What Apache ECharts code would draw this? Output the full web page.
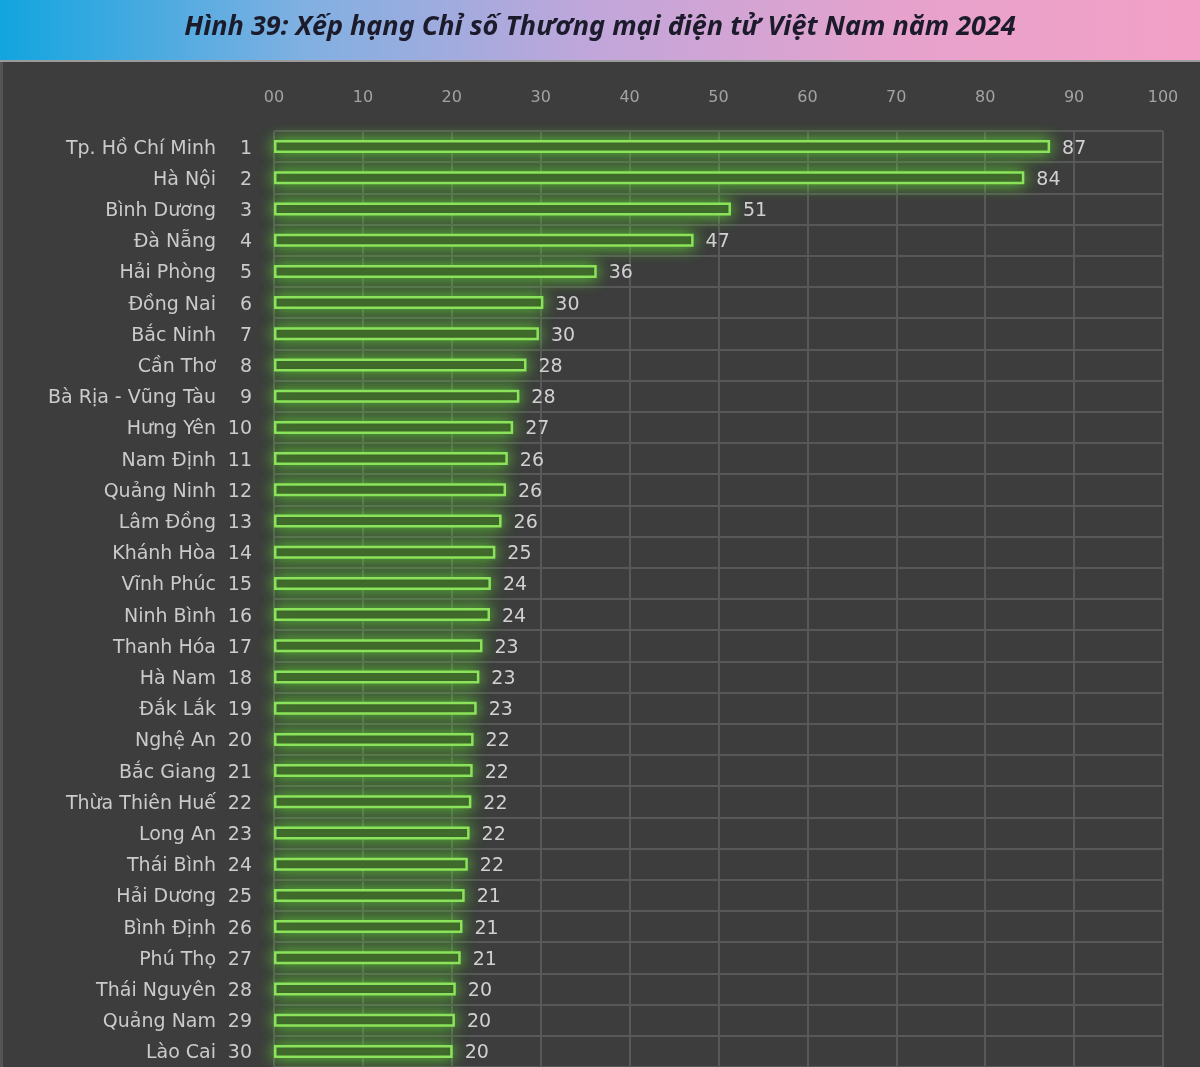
<!DOCTYPE html>
<html>
<head>
<meta charset="utf-8">
<script src="https://cdn.jsdelivr.net/npm/echarts@6/dist/echarts.min.js"></script>
<style>
html,body{margin:0;padding:0;background:#3d3d3d;}
#chart{width:1200px;height:1067px;}
</style>
</head>
<body>
<div id="chart"></div>
<script>
const titleText = 'Hình 39: Xếp hạng Chỉ số Thương mại điện tử Việt Nam năm 2024';
const provinces = ['Tp. Hồ Chí Minh','Hà Nội','Bình Dương','Đà Nẵng','Hải Phòng','Đồng Nai','Bắc Ninh','Cần Thơ','Bà Rịa - Vũng Tàu','Hưng Yên','Nam Định','Quảng Ninh','Lâm Đồng','Khánh Hòa','Vĩnh Phúc','Ninh Bình','Thanh Hóa','Hà Nam','Đắk Lắk','Nghệ An','Bắc Giang','Thừa Thiên Huế','Long An','Thái Bình','Hải Dương','Bình Định','Phú Thọ','Thái Nguyên','Quảng Nam','Lào Cai'];
const ranks = [1,2,3,4,5,6,7,8,9,10,11,12,13,14,15,16,17,18,19,20,21,22,23,24,25,26,27,28,29,30];
const scores = [87.3,84.4,51.4,47.2,36.3,30.3,29.8,28.4,27.6,26.9,26.3,26.1,25.6,24.9,24.4,24.3,23.45,23.1,22.8,22.45,22.35,22.2,22.0,21.8,21.45,21.2,21.0,20.45,20.35,20.1];
const xTicks = ['00','10','20','30','40','50','60','70','80','90','100'];

const chart = echarts.init(document.getElementById('chart'));
const catLabels = provinces.map((p,i)=>p+'|'+ranks[i]);
const F = 'DejaVu Sans';
chart.setOption({
  backgroundColor:'#3d3d3d',
  animation:false,
  graphic:[
    {type:'rect',left:0,top:0,shape:{width:1200,height:60},style:{fill:new echarts.graphic.LinearGradient(0,0,1,0,[{offset:0,color:'#12a5df'},{offset:0.25,color:'#80b0e2'},{offset:0.5,color:'#c2a6da'},{offset:0.75,color:'#e6a2cc'},{offset:1,color:'#f3a0c6'}])},z:10},
    {type:'rect',left:0,top:60,shape:{width:1200,height:2},style:{fill:'#9a9a9a'},z:10},
    {type:'rect',left:0,top:62,shape:{width:3,height:1005},style:{fill:'#555'},z:10},
    {type:'text',left:'center',top:14,style:{text:titleText,font:'italic bold 27px "Noto Sans"',fill:'#1b1b2b'},z:11}
  ],
  grid:{left:274,right:37,top:131,bottom:0,containLabel:false},
  xAxis:{type:'value',position:'top',min:0,max:100,interval:10,
    axisLine:{show:false},axisTick:{show:false},
    axisLabel:{color:'#a3a3a3',fontSize:16,fontFamily:F,margin:25,formatter:(v)=>xTicks[Math.round(v/10)]},
    splitLine:{show:true,lineStyle:{color:'#585858',width:2}}},
  yAxis:{type:'category',inverse:true,data:catLabels,
    axisLine:{show:false},axisTick:{show:false},
    splitLine:{show:true,interval:0,lineStyle:{color:'#585858',width:2}},
    axisLabel:{margin:22,interval:0,fontFamily:F,
      formatter:(v)=>{const parts=v.split('|');return '{n|'+parts[0]+'}{r|'+parts[1]+'}';},
      rich:{n:{color:'#cbcbcb',fontSize:19,fontFamily:F,padding:[4,0,0,0]},r:{color:'#cbcbcb',fontSize:19,fontFamily:F,width:36,align:'right',padding:[4,0,0,0]}}}},
  series:[{type:'bar',data:scores,barWidth:13,
    itemStyle:{color:'#384f2a',borderColor:'#8ae35a',borderWidth:2.5,shadowBlur:16,shadowColor:'rgba(100,230,50,0.85)'},
    label:{show:true,position:'right',distance:12,offset:[0,2],color:'#d0d0d0',fontSize:19,fontFamily:F,formatter:(p)=>Math.round(p.value)}}]
});
</script>
</body>
</html>
